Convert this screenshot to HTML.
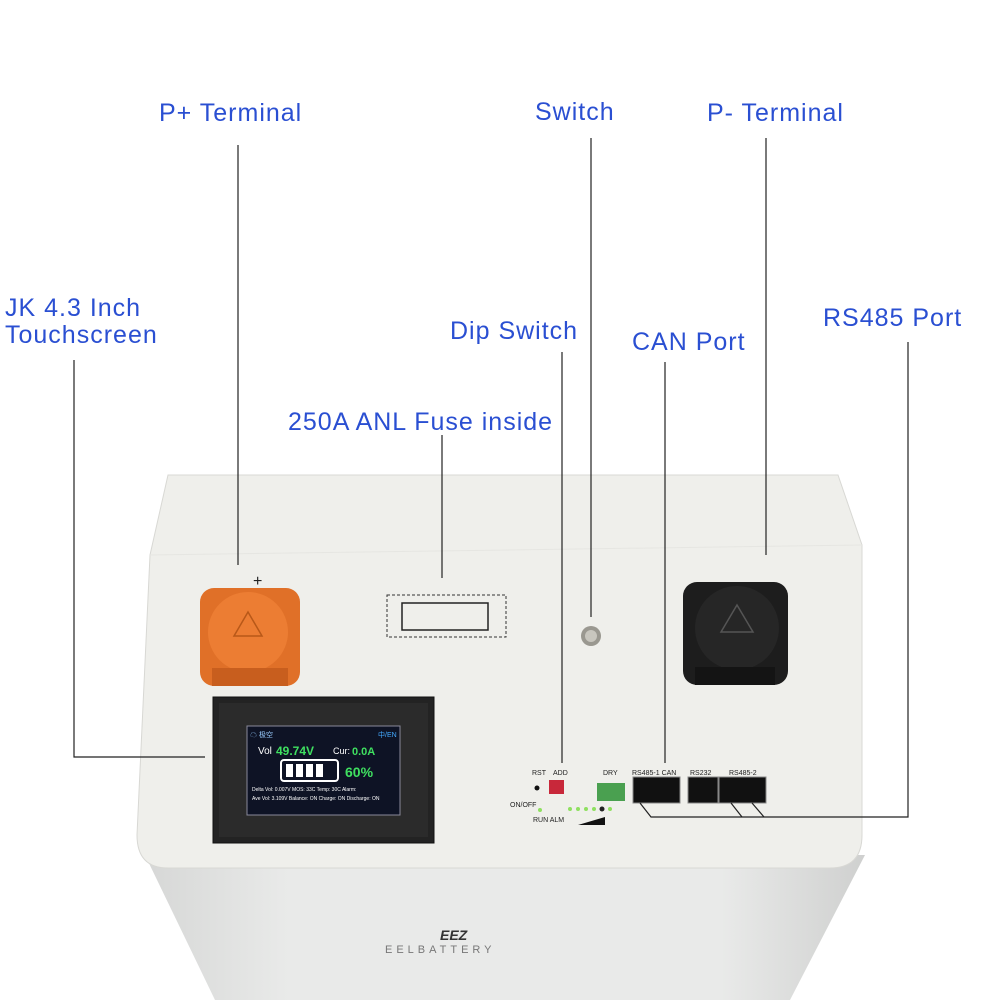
<!DOCTYPE html>
<html><head><meta charset="utf-8"><style>
body{margin:0;width:1000px;height:1000px;background:#fff;overflow:hidden;position:relative;font-family:"Liberation Sans",sans-serif}
.l{position:absolute;color:#2a4fd2;font-size:25px;letter-spacing:1px;white-space:nowrap;line-height:27px}
</style></head><body>
<svg width="1000" height="1000" style="position:absolute;left:0;top:0">
<defs>
<linearGradient id="bd" x1="0" x2="1"><stop offset="0" stop-color="#d6d7d6"/><stop offset="0.2" stop-color="#e9eae9"/><stop offset="0.8" stop-color="#e9eae9"/><stop offset="1" stop-color="#cfd0cf"/></linearGradient>
</defs>
<polygon points="145,855 865,855 790,1000 215,1000" fill="url(#bd)"/>
<path d="M168,475 L838,475 L862,545 L862,835 Q862,868 830,868 L168,868 Q137,868 137,835 L150,555 Z" fill="#efefeb" stroke="#d8d8d4"/>
<line x1="150" y1="555" x2="862" y2="545" stroke="#e6e6e2"/>
<rect x="200" y="588" width="100" height="98" rx="14" fill="#e07028"/>
<circle cx="248" cy="632" r="40" fill="#ec7d33"/>
<rect x="212" y="668" width="76" height="18" fill="#c85e1e"/>
<path d="M248,612 L262,636 L234,636 Z" fill="none" stroke="#b85818" stroke-width="1.5"/>
<text x="253" y="586" font-size="16" fill="#222">+</text>
<rect x="387" y="595" width="119" height="42" fill="none" stroke="#333" stroke-dasharray="3,2"/>
<rect x="402" y="603" width="86" height="27" fill="none" stroke="#222" stroke-width="1.5"/>
<circle cx="591" cy="636" r="10" fill="#9a9890"/><circle cx="591" cy="636" r="6" fill="#c8c6be"/>
<rect x="683" y="582" width="105" height="103" rx="14" fill="#1d1d1d"/>
<circle cx="737" cy="628" r="42" fill="#262626"/>
<rect x="695" y="667" width="80" height="18" fill="#141414"/>
<path d="M737,605 L753,632 L721,632 Z" fill="none" stroke="#555" stroke-width="1.5"/>
<rect x="213" y="697" width="221" height="146" fill="#232323" stroke="#111"/>
<rect x="219" y="703" width="209" height="134" fill="#2b2b2b"/>
<rect x="247" y="726" width="153" height="89" fill="#0e1325" stroke="#8a8a9a"/>
<text x="258" y="754" font-size="10" fill="#fff">Vol</text>
<text x="276" y="755" font-size="12" fill="#3fe060" font-weight="bold">49.74V</text>
<text x="333" y="754" font-size="9" fill="#fff">Cur:</text>
<text x="352" y="755" font-size="11" fill="#3fe060" font-weight="bold">0.0A</text>
<rect x="281" y="760" width="57" height="21" rx="3" fill="none" stroke="#fff" stroke-width="2"/>
<rect x="286" y="764" width="7" height="13" fill="#fff"/><rect x="296" y="764" width="7" height="13" fill="#fff"/><rect x="306" y="764" width="7" height="13" fill="#fff"/><rect x="316" y="764" width="7" height="13" fill="#fff"/>
<text x="345" y="777" font-size="14" fill="#3fe060" font-weight="bold">60%</text>
<text x="252" y="791" font-size="5" fill="#fff">Delta Vol: 0.007V  MOS: 33C  Temp: 30C  Alarm:</text>
<text x="252" y="800" font-size="5" fill="#fff">Ave Vol: 3.109V  Balance: ON  Charge: ON  Discharge: ON</text>
<text x="250" y="737" font-size="7" fill="#9cf">☁ 极空</text>
<text x="378" y="737" font-size="7" fill="#4af">中/EN</text>
<g font-size="7" fill="#222">
<text x="532" y="775">RST</text><text x="553" y="775">ADD</text><text x="603" y="775">DRY</text>
<text x="632" y="775">RS485-1 CAN</text><text x="690" y="775">RS232</text><text x="729" y="775">RS485-2</text>
<text x="510" y="807">ON/OFF</text><text x="533" y="822">RUN ALM</text>
</g>
<circle cx="537" cy="788" r="2.5" fill="#111"/>
<rect x="549" y="780" width="15" height="14" fill="#c8283a"/>
<rect x="597" y="783" width="28" height="18" fill="#4aa050"/>
<rect x="633" y="777" width="47" height="26" fill="#111" stroke="#888"/>
<rect x="688" y="777" width="30" height="26" fill="#111" stroke="#888"/>
<rect x="719" y="777" width="47" height="26" fill="#111" stroke="#888"/>
<g fill="#8fe060"><circle cx="540" cy="810" r="2"/><circle cx="570" cy="809" r="2"/><circle cx="578" cy="809" r="2"/><circle cx="586" cy="809" r="2"/><circle cx="594" cy="809" r="2"/><circle cx="610" cy="809" r="2"/></g>
<circle cx="602" cy="809" r="2.5" fill="#222"/>
<polygon points="578,825 605,817 605,825" fill="#111"/>
<text x="440" y="940" font-size="14" font-weight="bold" font-style="italic" fill="#333">EEZ</text>
<text x="385" y="953" font-size="11" fill="#777" letter-spacing="4">EELBATTERY</text>
<g stroke="#222" stroke-width="1.2" fill="none">
<line x1="238" y1="145" x2="238" y2="565"/>
<line x1="591" y1="138" x2="591" y2="617"/>
<line x1="766" y1="138" x2="766" y2="555"/>
<polyline points="74,360 74,757 205,757"/>
<line x1="562" y1="352" x2="562" y2="763"/>
<line x1="665" y1="362" x2="665" y2="763"/>
<line x1="442" y1="435" x2="442" y2="578"/>
<polyline points="908,342 908,817 651,817 640,803"/>
<line x1="742" y1="817" x2="731" y2="803"/>
<line x1="764" y1="817" x2="752" y2="803"/>
</g>
</svg>
<div class="l" style="left:159px;top:100px">P+ Terminal</div>
<div class="l" style="left:535px;top:99px">Switch</div>
<div class="l" style="left:707px;top:100px">P- Terminal</div>
<div class="l" style="left:5px;top:295px">JK 4.3 Inch<br>Touchscreen</div>
<div class="l" style="left:450px;top:318px">Dip Switch</div>
<div class="l" style="left:632px;top:329px">CAN Port</div>
<div class="l" style="left:823px;top:305px">RS485 Port</div>
<div class="l" style="left:288px;top:409px">250A ANL Fuse inside</div>
</body></html>
